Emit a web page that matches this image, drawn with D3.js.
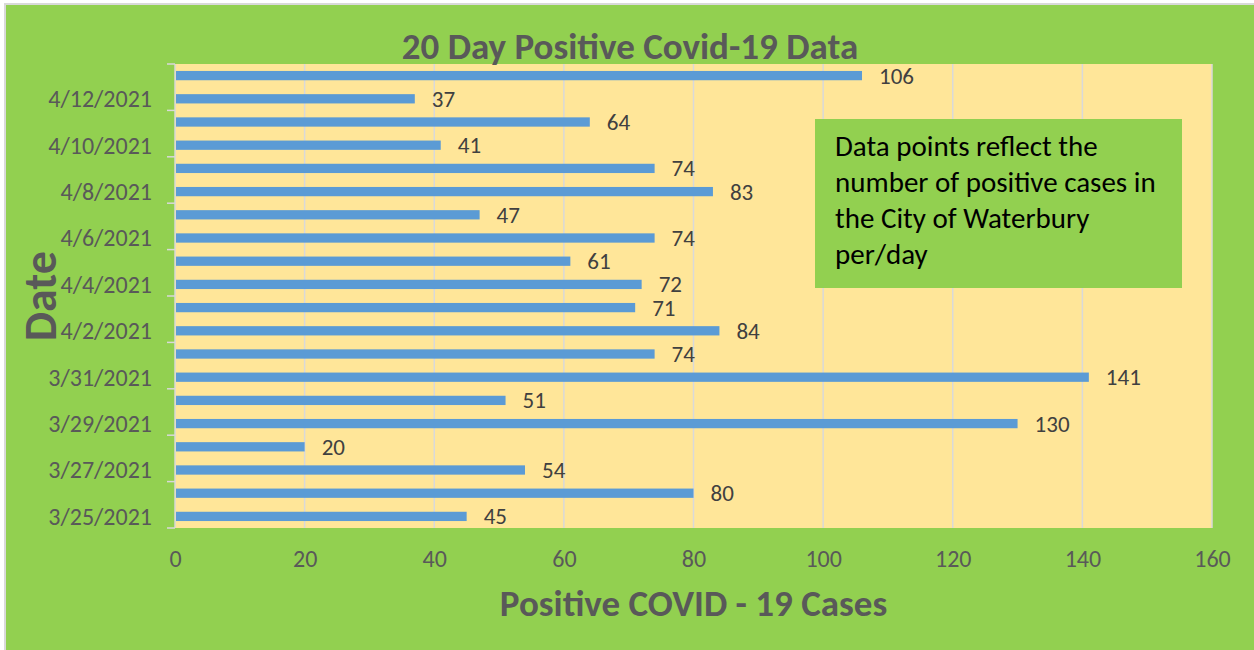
<!DOCTYPE html>
<html>
<head>
<meta charset="utf-8">
<script src="https://cdn.jsdelivr.net/npm/d3@7"></script>
<style>
  body { margin: 0; background: #fff; }
  svg { display: block; font-family: Calibri, Carlito, Lato, sans-serif; }
</style>
</head>
<body>
<svg id="chart" width="1254" height="650"></svg>
<script>
var dates = ['3/25/2021', '3/26/2021', '3/27/2021', '3/28/2021', '3/29/2021', '3/30/2021', '3/31/2021',
  '4/1/2021', '4/2/2021', '4/3/2021', '4/4/2021', '4/5/2021', '4/6/2021', '4/7/2021', '4/8/2021',
  '4/9/2021', '4/10/2021', '4/11/2021', '4/12/2021', '4/13/2021']
var cases = [45, 80, 54, 20, 130, 51, 141, 74, 84, 71, 72, 61, 74, 47, 83, 74, 41, 64, 37, 106]
var xTicks = [0, 20, 40, 60, 80, 100, 120, 140, 160]
var noteLines = ['Data points reflect the', 'number of positive cases in', 'the City of Waterbury', 'per/day']

var width = 1254, height = 650
var plot = { l: 175, t: 64, r: 1212, b: 528 }
var svg = d3.select('#chart')

// chart background
svg.append('rect').attr('x', 5).attr('y', 4).attr('width', width).attr('height', height)
  .attr('fill', '#92D050').attr('stroke', '#D9D9D9').attr('stroke-width', 2)

svg.append('rect').attr('x', plot.l).attr('y', plot.t)
  .attr('width', plot.r - plot.l).attr('height', plot.b - plot.t).attr('fill', '#FFE699')

var data = dates.map(function (d, i) { return { date: d, v: cases[i] } })

var x = d3.scaleLinear().domain([0, 160]).range([plot.l, plot.r])
var y = d3.scaleBand().domain(dates.slice().reverse()).range([plot.t, plot.b]).paddingInner(0.6).paddingOuter(0.3)

// grid
svg.append('g').selectAll('line').data(xTicks.slice(1)).join('line')
  .attr('x1', d => x(d)).attr('x2', d => x(d))
  .attr('y1', plot.t).attr('y2', plot.b)
  .attr('stroke', '#D9D9D9').attr('stroke-width', 1.5)

// x axis labels
var xAxis = svg.append('g').attr('transform', 'translate(0,' + plot.b + ')')
  .call(d3.axisBottom(x).tickValues(xTicks).tickSize(0).tickPadding(22))
xAxis.select('.domain').remove()
xAxis.selectAll('text').attr('font-size', 24).attr('fill', '#595959').attr('font-family', 'Calibri, Carlito, Lato, sans-serif')

// y axis
var step = (plot.b - plot.t) / dates.length
var yAxis = svg.append('g')
svg.append('line').attr('x1', plot.l).attr('x2', plot.l).attr('y1', plot.t).attr('y2', plot.b)
  .attr('stroke', '#D9D9D9').attr('stroke-width', 1.5)
var tickYs = d3.range(0, dates.length + 1, 2).map(k => plot.b - k * step)
yAxis.selectAll('line').data(tickYs).join('line')
  .attr('x1', plot.l - 8).attr('x2', plot.l).attr('y1', d => d).attr('y2', d => d)
  .attr('stroke', '#D9D9D9').attr('stroke-width', 1.5)
yAxis.selectAll('text').data(dates.filter((d, i) => i % 2 === 0)).join('text')
  .attr('x', plot.l - 23).attr('y', d => y(d) + y.bandwidth() / 2).attr('dy', '0.35em')
  .attr('text-anchor', 'end').attr('font-size', 24).attr('fill', '#595959').text(d => d)

// bars
svg.append('g').selectAll('rect').data(data).join('rect')
  .attr('x', x(0) + 1).attr('y', d => y(d.date))
  .attr('width', d => x(d.v) - x(0) - 1).attr('height', y.bandwidth())
  .attr('fill', '#5B9BD5')

svg.append('g').selectAll('text').data(data).join('text')
  .attr('x', d => x(d.v) + 17).attr('y', d => y(d.date) + y.bandwidth() / 2).attr('dy', '0.35em')
  .attr('font-size', 23).attr('fill', '#404040').text(d => d.v)

// titles
svg.append('text').attr('x', 630).attr('y', 59).attr('text-anchor', 'middle')
  .attr('font-size', 37).attr('font-weight', 'bold').attr('fill', '#595959')
  .text('20 Day Positive Covid-19 Data')
svg.append('text').attr('x', (plot.l + plot.r) / 2).attr('y', 616).attr('text-anchor', 'middle')
  .attr('font-size', 37).attr('font-weight', 'bold').attr('fill', '#595959')
  .text('Positive COVID - 19 Cases')
svg.append('text').attr('transform', 'translate(56,' + ((plot.t + plot.b) / 2) + ') rotate(-90)')
  .attr('text-anchor', 'middle').attr('font-size', 46).attr('font-weight', 'bold').attr('fill', '#595959')
  .text('Date')

// note box
svg.append('rect').attr('x', 815).attr('y', 119).attr('width', 367).attr('height', 169).attr('fill', '#92D050')
svg.append('g').selectAll('text').data(noteLines).join('text')
  .attr('x', 835).attr('y', (d, i) => 156 + i * 36)
  .attr('font-size', 29).attr('fill', '#000').text(d => d)
</script>
</body>
</html>
